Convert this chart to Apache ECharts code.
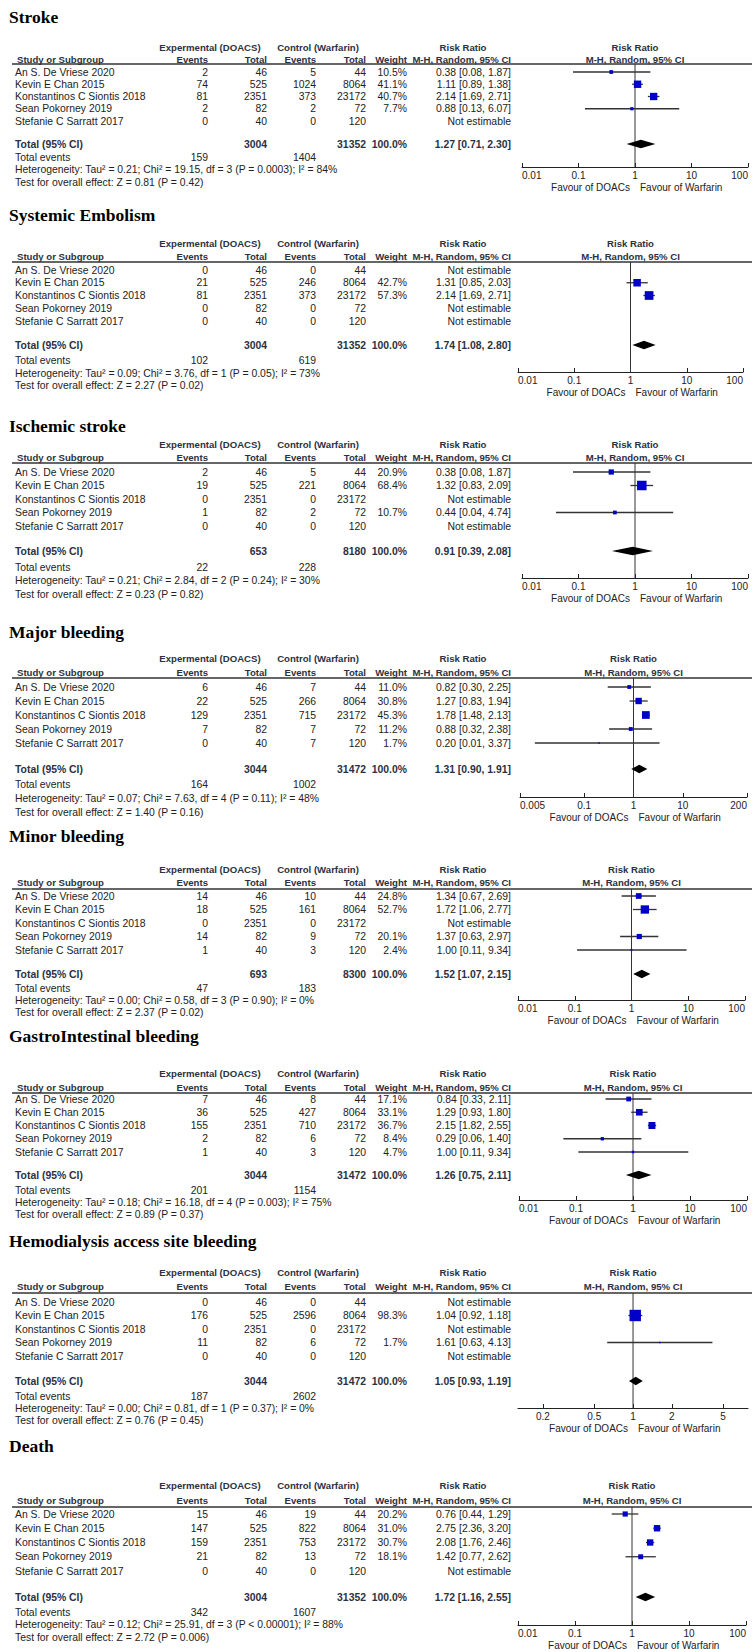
<!DOCTYPE html>
<html><head><meta charset="utf-8">
<script src="https://cdn.jsdelivr.net/npm/echarts@6/dist/echarts.min.js"></script>
<style>html,body{margin:0;padding:0;background:#fff}#c{width:756px;height:1652px}</style>
</head><body><div id="c"></div>
<script>
// ---------------- DATA ----------------
const outcomes = ['Stroke','Systemic Embolism','Ischemic stroke','Major bleeding','Minor bleeding','GastroIntestinal bleeding','Hemodialysis access site bleeding','Death'];
const studies = ['An S. De Vriese 2020','Kevin E Chan 2015','Konstantinos C Siontis 2018','Sean Pokorney 2019','Stefanie C Sarratt 2017'];
const expTotals = [46,525,2351,82,40];
const ctlTotals = [44,8064,23172,72,120];
const expEvents = [[2,74,81,2,0],[0,21,81,0,0],[2,19,0,1,0],[6,22,129,7,0],[14,18,0,14,1],[7,36,155,2,1],[0,176,0,11,0],[15,147,159,21,0]];
const ctlEvents = [[5,1024,373,2,0],[0,246,373,0,0],[5,221,0,2,0],[7,266,715,7,7],[10,161,0,9,3],[8,427,710,6,3],[0,2596,0,6,0],[19,822,753,13,0]];
const weights = [[10.5,41.1,40.7,7.7,null],[null,42.7,57.3,null,null],[20.9,68.4,null,10.7,null],[11.0,30.8,45.3,11.2,1.7],[24.8,52.7,null,20.1,2.4],[17.1,33.1,36.7,8.4,4.7],[null,98.3,null,1.7,null],[20.2,31.0,30.7,18.1,null]];
const riskRatio = [[0.38,1.11,2.14,0.88,null],[null,1.31,2.14,null,null],[0.38,1.32,null,0.44,null],[0.82,1.27,1.78,0.88,0.20],[1.34,1.72,null,1.37,1.00],[0.84,1.29,2.15,0.29,1.00],[null,1.04,null,1.61,null],[0.76,2.75,2.08,1.42,null]];
const ciLower = [[0.08,0.89,1.69,0.13,null],[null,0.85,1.69,null,null],[0.08,0.83,null,0.04,null],[0.30,0.83,1.48,0.32,0.01],[0.67,1.06,null,0.63,0.11],[0.33,0.93,1.82,0.06,0.11],[null,0.92,null,0.63,null],[0.44,2.36,1.76,0.77,null]];
const ciUpper = [[1.87,1.38,2.71,6.07,null],[null,2.03,2.71,null,null],[1.87,2.09,null,4.74,null],[2.25,1.94,2.13,2.38,3.37],[2.69,2.77,null,2.97,9.34],[2.11,1.80,2.55,1.40,9.34],[null,1.18,null,4.13,null],[1.29,3.20,2.46,2.62,null]];
const pooledRR = [1.27,1.74,0.91,1.31,1.52,1.26,1.05,1.72];
const pooledLower = [0.71,1.08,0.39,0.90,1.07,0.75,0.93,1.16];
const pooledUpper = [2.30,2.80,2.08,1.91,2.15,2.11,1.19,2.55];
const sumExpTotal = [3004,3004,653,3044,693,3044,3044,3004];
const sumCtlTotal = [31352,31352,8180,31472,8300,31472,31472,31352];
const totalEventsExp = [159,102,22,164,47,201,187,342];
const totalEventsCtl = [1404,619,228,1002,183,1154,2602,1607];
const heterogeneity = [
 'Heterogeneity: Tau² = 0.21; Chi² = 19.15, df = 3 (P = 0.0003); I² = 84%',
 'Heterogeneity: Tau² = 0.09; Chi² = 3.76, df = 1 (P = 0.05); I² = 73%',
 'Heterogeneity: Tau² = 0.21; Chi² = 2.84, df = 2 (P = 0.24); I² = 30%',
 'Heterogeneity: Tau² = 0.07; Chi² = 7.63, df = 4 (P = 0.11); I² = 48%',
 'Heterogeneity: Tau² = 0.00; Chi² = 0.58, df = 3 (P = 0.90); I² = 0%',
 'Heterogeneity: Tau² = 0.18; Chi² = 16.18, df = 4 (P = 0.003); I² = 75%',
 'Heterogeneity: Tau² = 0.00; Chi² = 0.81, df = 1 (P = 0.37); I² = 0%',
 'Heterogeneity: Tau² = 0.12; Chi² = 25.91, df = 3 (P < 0.00001); I² = 88%'];
const overallEffect = [
 'Test for overall effect: Z = 0.81 (P = 0.42)',
 'Test for overall effect: Z = 2.27 (P = 0.02)',
 'Test for overall effect: Z = 0.23 (P = 0.82)',
 'Test for overall effect: Z = 1.40 (P = 0.16)',
 'Test for overall effect: Z = 2.37 (P = 0.02)',
 'Test for overall effect: Z = 0.89 (P = 0.37)',
 'Test for overall effect: Z = 0.76 (P = 0.45)',
 'Test for overall effect: Z = 2.72 (P = 0.006)'];
const axisTicks = [[0.01,0.1,1,10,100],[0.01,0.1,1,10,100],[0.01,0.1,1,10,100],[0.005,0.1,1,10,200],[0.01,0.1,1,10,100],[0.01,0.1,1,10,100],[0.2,0.5,1,2,5],[0.01,0.1,1,10,100]];
const axisRange = [[0.01,100],[0.01,100],[0.01,100],[0.005,200],[0.01,100],[0.01,100],[0.128,7.8],[0.01,100]];

// ---------------- LAYOUT (pixels) ----------------
const layout = [
 {title:17,  exp:47,   study:59,   line:64,   row0:72,   step:12.25, total:144,  te:157,  het:169,  test:182,  axis:167,  xl:522, xr:748},
 {title:215, exp:243,  study:256,  line:262,  row0:270,  step:12.75, total:345,  te:360,  het:373,  test:385,  axis:372,  xl:518, xr:743},
 {title:426, exp:444,  study:457,  line:463,  row0:472,  step:13.5,  total:551,  te:567,  het:580,  test:594,  axis:578,  xl:522, xr:748},
 {title:632, exp:658,  study:672,  line:678,  row0:687,  step:14,    total:769,  te:784,  het:798,  test:812,  axis:797,  xl:520, xr:747},
 {title:836, exp:869,  study:882,  line:889,  row0:896,  step:13.5,  total:974,  te:988,  het:1000, test:1012, axis:1000, xl:518, xr:745},
 {title:1036,exp:1073, study:1087, line:1093, row0:1099, step:13.25, total:1175, te:1190, het:1202, test:1214, axis:1200, xl:519, xr:747},
 {title:1241,exp:1272, study:1286, line:1293, row0:1302, step:13.5,  total:1381, te:1396, het:1408, test:1420, axis:1408, xl:518, xr:748},
 {title:1446,exp:1485, study:1500, line:1507, row0:1514, step:14.25, total:1597, te:1612, het:1624, test:1637, axis:1625, xl:518, xr:746}
];
const FONT = '"Liberation Sans", Arial, sans-serif';
const SERIF = '"Liberation Serif", "Times New Roman", serif';
const COL = {study:15, expEv:208, expTot:267, ctlEv:316, ctlTot:366, weight:407, rr:511};
const TXT = '#222', HEAD = '#2b3142';
const BODY = 10.4, HSIZE = 9.6;
const SQ = 1.15;

const chart = echarts.init(document.getElementById('c'), null, {renderer:'svg', width:756, height:1652});
const grids=[], xAxes=[], yAxes=[], series=[];
layout.forEach((L,p)=>{
  const lmin=Math.log10(axisRange[p][0]), lmax=Math.log10(axisRange[p][1]);
  const tickLogs = axisTicks[p].map(v=>Math.log10(v));
  const ends = Math.abs(tickLogs[0]-lmin)<1e-6;
  const yMin = -(L.row0-L.line)/L.step, yMax = (L.axis-L.row0)/L.step;
  grids.push({left:L.xl, width:L.xr-L.xl, top:L.line, height:L.axis-L.line});
  xAxes.push({gridIndex:p, type:'value', min:lmin, max:lmax, position:'bottom',
    axisLine:{show:true,onZero:false,lineStyle:{color:'#222',width:1}},
    axisTick:{show:true,inside:true,length:4,customValues:tickLogs,lineStyle:{color:'#222',width:1}},
    axisLabel:{show:true,customValues:tickLogs,margin:3,fontSize:10,fontFamily:FONT,color:TXT,
      alignMinLabel: ends?'left':'center', alignMaxLabel: ends?'right':'center',
      formatter:v=>{const i=tickLogs.findIndex(t=>Math.abs(t-v)<1e-6); return i>=0?String(axisTicks[p][i]):'';}},
    splitLine:{show:false}});
  yAxes.push({gridIndex:p,type:'value',inverse:true,min:yMin,max:yMax,show:false});
  // reference line at RR = 1
  series.push({type:'line', xAxisIndex:p, yAxisIndex:p, z:1, silent:true, symbol:'none',
    lineStyle:{color:'#333',width:1}, data:[[0,yMin],[0,yMax]]});
  const sd=[];
  studies.forEach((s,i)=>{ if(riskRatio[p][i]!=null) sd.push([i, Math.log10(riskRatio[p][i]), Math.log10(ciLower[p][i]), Math.log10(ciUpper[p][i]), weights[p][i]]); });
  series.push({type:'custom', xAxisIndex:p, yAxisIndex:p, z:3, silent:true, encode:{x:[1,2,3], y:0}, data:sd,
    renderItem:(params, api)=>{
      const y=api.value(0);
      const a=api.coord([api.value(2),y]), b=api.coord([api.value(3),y]), c=api.coord([api.value(1),y]);
      const s=SQ*Math.sqrt(api.value(4));
      return {type:'group', children:[
        {type:'line', shape:{x1:a[0],y1:a[1],x2:b[0],y2:b[1]}, style:{stroke:'#333',lineWidth:1.3}},
        {type:'rect', shape:{x:c[0]-s/2,y:c[1]-s/2,width:s,height:s}, style:{fill:'#0000c8'}}]};
    }});
  const totalPos = (L.total-L.row0)/L.step;
  series.push({type:'custom', xAxisIndex:p, yAxisIndex:p, z:3, silent:true, encode:{x:[1,2,3], y:0},
    data:[[totalPos, Math.log10(pooledRR[p]), Math.log10(pooledLower[p]), Math.log10(pooledUpper[p])]],
    renderItem:(params, api)=>{
      const y=api.value(0);
      const c=api.coord([api.value(1),y]), a=api.coord([api.value(2),y]), b=api.coord([api.value(3),y]);
      const h=4.2;
      return {type:'polygon', shape:{points:[[a[0],a[1]],[c[0],c[1]-h],[b[0],b[1]],[c[0],c[1]+h]]}, style:{fill:'#000'}};
    }});
});
chart.setOption({animation:false, grid:grids, xAxis:xAxes, yAxis:yAxes, series:series});

function txt(x,y,s,align,bold,color,size,family){
  return {type:'text', x:x, y:y, silent:true, z:10,
    style:{text:String(s), fontSize:size||(bold?HSIZE:BODY), fontWeight:bold?'bold':'normal', fontFamily:family||FONT,
      fill:color||TXT, textAlign:align||'left', textVerticalAlign:'middle'}};
}
const els=[];
layout.forEach((L,p)=>{
  const refX = chart.convertToPixel({xAxisIndex:p}, 0);
  els.push(txt(9, L.title, outcomes[p], 'left', true, '#000', 17.5, SERIF));
  els.push(txt(210, L.exp, 'Expermental (DOACS)', 'center', true, HEAD));
  els.push(txt(318, L.exp, 'Control (Warfarin)', 'center', true, HEAD));
  els.push(txt(463, L.exp, 'Risk Ratio', 'center', true, HEAD));
  els.push(txt(refX, L.exp, 'Risk Ratio', 'center', true, HEAD));
  els.push(txt(17, L.study, 'Study or Subgroup', 'left', true, HEAD));
  els.push(txt(COL.expEv, L.study, 'Events', 'right', true, HEAD));
  els.push(txt(COL.expTot, L.study, 'Total', 'right', true, HEAD));
  els.push(txt(COL.ctlEv, L.study, 'Events', 'right', true, HEAD));
  els.push(txt(COL.ctlTot, L.study, 'Total', 'right', true, HEAD));
  els.push(txt(COL.weight, L.study, 'Weight', 'right', true, HEAD));
  els.push(txt(COL.rr, L.study, 'M-H, Random, 95% CI', 'right', true, HEAD));
  els.push(txt(refX, L.study, 'M-H, Random, 95% CI', 'center', true, HEAD));
  els.push({type:'line', silent:true, shape:{x1:12,y1:L.line,x2:752,y2:L.line}, style:{stroke:'#333',lineWidth:1.5}});
  studies.forEach((s,i)=>{
    const y = L.row0 + i*L.step;
    els.push(txt(COL.study, y, s, 'left'));
    els.push(txt(COL.expEv, y, expEvents[p][i], 'right'));
    els.push(txt(COL.expTot, y, expTotals[i], 'right'));
    els.push(txt(COL.ctlEv, y, ctlEvents[p][i], 'right'));
    els.push(txt(COL.ctlTot, y, ctlTotals[i], 'right'));
    if (weights[p][i]!=null) {
      els.push(txt(COL.weight, y, weights[p][i].toFixed(1)+'%', 'right'));
      els.push(txt(COL.rr, y, riskRatio[p][i].toFixed(2)+' ['+ciLower[p][i].toFixed(2)+', '+ciUpper[p][i].toFixed(2)+']', 'right'));
    } else {
      els.push(txt(COL.rr, y, 'Not estimable', 'right'));
    }
  });
  els.push(txt(COL.study, L.total, 'Total (95% CI)', 'left', true, HEAD, BODY));
  els.push(txt(COL.expTot, L.total, sumExpTotal[p], 'right', true, HEAD, BODY));
  els.push(txt(COL.ctlTot, L.total, sumCtlTotal[p], 'right', true, HEAD, BODY));
  els.push(txt(COL.weight, L.total, '100.0%', 'right', true, HEAD, BODY));
  els.push(txt(COL.rr, L.total, pooledRR[p].toFixed(2)+' ['+pooledLower[p].toFixed(2)+', '+pooledUpper[p].toFixed(2)+']', 'right', true, HEAD, BODY));
  els.push(txt(COL.study, L.te, 'Total events', 'left'));
  els.push(txt(COL.expEv, L.te, totalEventsExp[p], 'right'));
  els.push(txt(COL.ctlEv, L.te, totalEventsCtl[p], 'right'));
  els.push(txt(COL.study, L.het, heterogeneity[p], 'left'));
  els.push(txt(COL.study, L.test, overallEffect[p], 'left'));
  els.push(txt(refX-5, L.axis+20, 'Favour of DOACs', 'right', false, TXT, 10));
  els.push(txt(refX+5, L.axis+20, 'Favour of Warfarin', 'left', false, TXT, 10));
});
chart.setOption({graphic:{elements:els}});
</script></body></html>
